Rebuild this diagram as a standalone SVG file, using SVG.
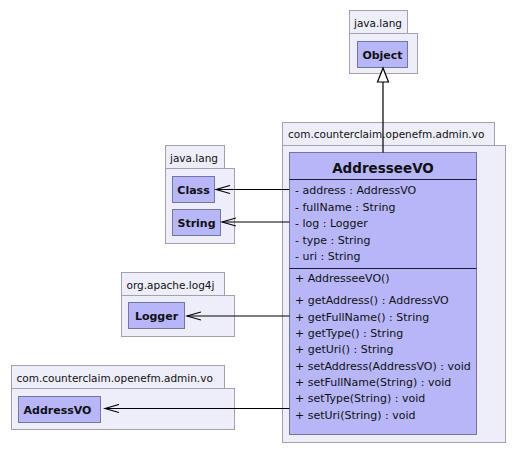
<svg xmlns="http://www.w3.org/2000/svg" width="517" height="453" viewBox="0 0 517 453">
<style>
.pkg{fill:#EEEEFB;stroke:#A2A2AE;stroke-width:1}
.cls{fill:#B6B6F8;stroke:#7474A6;stroke-width:1}
.sep{stroke:#1A1A30;stroke-width:1.2}
.pt{font-family:"DejaVu Sans",sans-serif;font-size:10.5px;fill:#111}
.cn{font-family:"DejaVu Sans",sans-serif;font-size:11px;font-weight:bold;fill:#111;text-anchor:middle}
.ti{font-family:"DejaVu Sans",sans-serif;font-size:13.5px;font-weight:bold;fill:#111;text-anchor:middle}
.m{font-family:"DejaVu Sans",sans-serif;font-size:11px;fill:#111}
.ln{stroke:#000;stroke-width:1.2;fill:none}
</style>
<defs>
<marker id="open" markerWidth="16" markerHeight="10" refX="14" refY="5" orient="auto" markerUnits="userSpaceOnUse">
<path d="M0,1 L14,5 L0,9" fill="none" stroke="#000" stroke-width="1.2"/>
</marker>
</defs>
<g id="pkg-java-lang-top">
<rect class="pkg" x="349.5" y="10.5" width="58" height="23"/>
<rect class="pkg" x="349.5" y="33.5" width="68" height="40"/>
<text class="pt" x="354" y="27">java.lang</text>
</g>
<g id="Object">
<rect class="cls" x="357.5" y="41.5" width="50" height="26"/>
<text class="cn" x="382.5" y="58.5">Object</text>
</g>
<g id="pkg-main">
<rect class="pkg" x="282.5" y="122.5" width="212" height="23"/>
<rect class="pkg" x="282.5" y="145.5" width="223" height="297"/>
<text class="pt" x="288" y="138">com.counterclaim.openefm.admin.vo</text>
</g>
<g id="AddresseeVO">
<rect class="cls" x="289.5" y="152.5" width="187" height="282"/>
<text class="ti" x="383" y="172.5">AddresseeVO</text>
<line class="sep" x1="289.5" y1="179.5" x2="476.5" y2="179.5"/>
<text class="m" x="295" y="194">- address : AddressVO</text>
<text class="m" x="295" y="210.5">- fullName : String</text>
<text class="m" x="295" y="227">- log : Logger</text>
<text class="m" x="295" y="243.5">- type : String</text>
<text class="m" x="295" y="260">- uri : String</text>
<line class="sep" x1="289.5" y1="268.5" x2="476.5" y2="268.5"/>
<text class="m" x="295" y="282">+ AddresseeVO()</text>
<text class="m" x="295" y="304">+ getAddress() : AddressVO</text>
<text class="m" x="295" y="320.5">+ getFullName() : String</text>
<text class="m" x="295" y="337">+ getType() : String</text>
<text class="m" x="295" y="353">+ getUri() : String</text>
<text class="m" x="295" y="369.5">+ setAddress(AddressVO) : void</text>
<text class="m" x="295" y="386">+ setFullName(String) : void</text>
<text class="m" x="295" y="402">+ setType(String) : void</text>
<text class="m" x="295" y="418.5">+ setUri(String) : void</text>
</g>
<g id="pkg-java-lang-left">
<rect class="pkg" x="165.5" y="145.5" width="59" height="23"/>
<rect class="pkg" x="165.5" y="168.5" width="69" height="75"/>
<text class="pt" x="170" y="162">java.lang</text>
</g>
<g id="Class">
<rect class="cls" x="172.5" y="176.5" width="42" height="26"/>
<text class="cn" x="193.5" y="193.5">Class</text>
</g>
<g id="String">
<rect class="cls" x="172.5" y="209.5" width="48" height="26"/>
<text class="cn" x="196.5" y="226.5">String</text>
</g>
<g id="pkg-log4j">
<rect class="pkg" x="121.5" y="272.5" width="103" height="23"/>
<rect class="pkg" x="121.5" y="295.5" width="113" height="41"/>
<text class="pt" x="126.5" y="289">org.apache.log4j</text>
</g>
<g id="Logger">
<rect class="cls" x="128.5" y="302.5" width="56" height="26"/>
<text class="cn" x="156.5" y="319.5">Logger</text>
</g>
<g id="pkg-vo-left">
<rect class="pkg" x="11.5" y="365.5" width="213" height="23"/>
<rect class="pkg" x="11.5" y="388.5" width="223" height="41"/>
<text class="pt" x="16.5" y="382">com.counterclaim.openefm.admin.vo</text>
</g>
<g id="AddressVO">
<rect class="cls" x="18.5" y="396.5" width="82" height="26"/>
<text class="cn" x="57.5" y="413.5">AddressVO</text>
</g>
<g id="connectors">
<line class="ln" x1="383" y1="152.5" x2="383" y2="82"/>
<path d="M383,68 L377.5,82 L388.5,82 Z" fill="#fff" stroke="#000" stroke-width="1.2"/>
<line class="ln" x1="289.5" y1="189.5" x2="216" y2="189.5" marker-end="url(#open)"/>
<line class="ln" x1="289.5" y1="222" x2="222" y2="222" marker-end="url(#open)"/>
<line class="ln" x1="289.5" y1="316" x2="187" y2="316" marker-end="url(#open)"/>
<line class="ln" x1="289.5" y1="408.5" x2="105" y2="408.5" marker-end="url(#open)"/>
</g>
</svg>
